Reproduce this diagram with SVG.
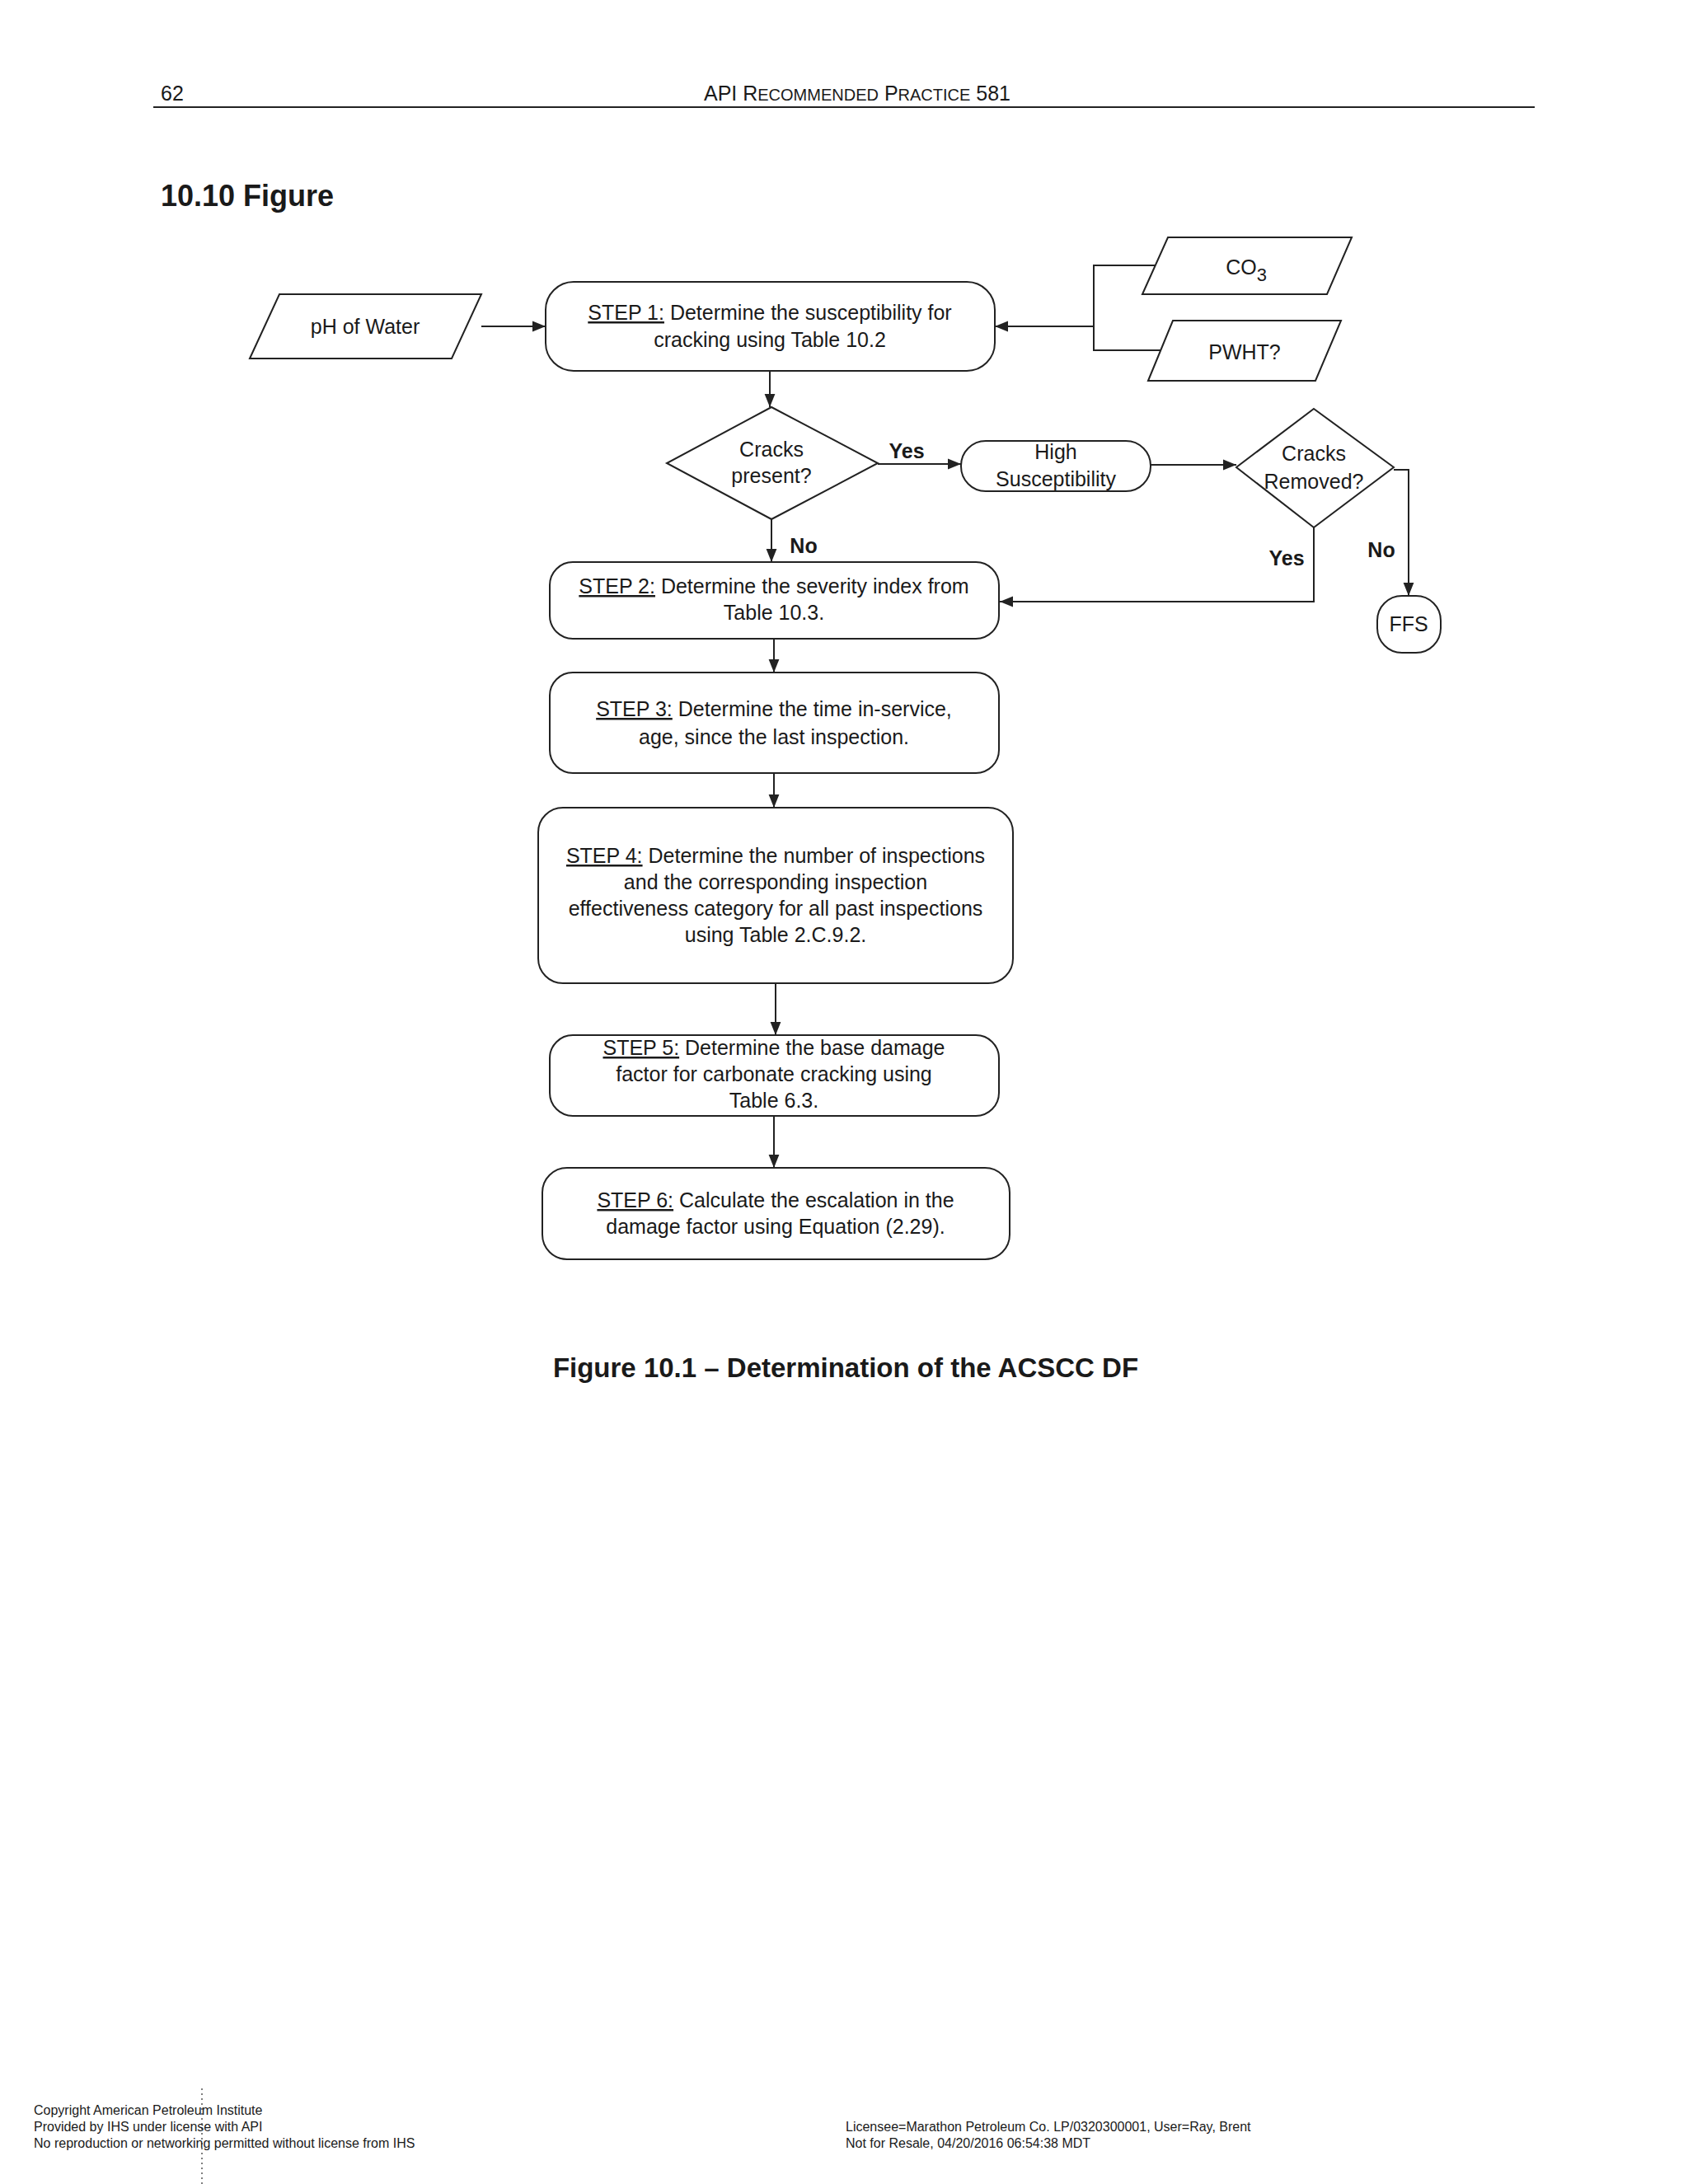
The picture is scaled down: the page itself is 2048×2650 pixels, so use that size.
<svg xmlns="http://www.w3.org/2000/svg" width="2048" height="2650" viewBox="0 0 2048 2650">
<style>
text{font-family:"Liberation Sans",Arial,sans-serif;fill:#1a1a1a}
.t{font-size:25px;text-anchor:middle}
.b{font-weight:bold}
.s{fill:#fff;stroke:#222;stroke-width:2}
.c{fill:none;stroke:#222;stroke-width:2}
.u{text-decoration:underline}
</style>
<defs><marker id="a" viewBox="0 0 10 10" refX="10" refY="5" markerWidth="10" markerHeight="10" markerUnits="userSpaceOnUse" orient="auto"><path d="M0,0L10,5L0,10z" fill="#222"/></marker>
<marker id="A" viewBox="0 0 10 10" refX="10" refY="5" markerWidth="16" markerHeight="16" markerUnits="userSpaceOnUse" orient="auto"><path d="M0,1L10,5L0,9z" fill="#222"/></marker></defs>
<rect width="2048" height="2650" fill="#fff"/>
<text x="195" y="122" font-size="25">62</text>
<text x="1040" y="122" font-size="25" text-anchor="middle">API R<tspan font-size="20">ECOMMENDED</tspan> P<tspan font-size="20">RACTICE</tspan> 581</text>
<line x1="186" y1="130" x2="1862" y2="130" stroke="#222" stroke-width="2"/>
<text x="195" y="250" font-size="36" class="b">10.10    Figure</text>
<g id="connectors">
<path class="c" d="M584,396H662" marker-end="url(#A)"/>
<path class="c" d="M1401,322H1327V425H1408M1327,396H1207" marker-end="url(#A)"/>
<path class="c" d="M934,450V494" marker-end="url(#A)"/>
<path class="c" d="M1065,563H1166" marker-end="url(#A)"/>
<path class="c" d="M1396,564H1500" marker-end="url(#A)"/>
<path class="c" d="M1691,570H1709V723" marker-end="url(#A)"/>
<path class="c" d="M1594,640V730H1213" marker-end="url(#A)"/>
<path class="c" d="M936,630V682" marker-end="url(#A)"/>
<path class="c" d="M939,775V816" marker-end="url(#A)"/>
<path class="c" d="M939,938V980" marker-end="url(#A)"/>
<path class="c" d="M941,1193V1256" marker-end="url(#A)"/>
<path class="c" d="M939,1354V1417" marker-end="url(#A)"/>
<text x="1100" y="556" font-size="25" class="b" text-anchor="middle">Yes</text>
<text x="975" y="671" font-size="25" class="b" text-anchor="middle">No</text>
<text x="1561" y="686" font-size="25" class="b" text-anchor="middle">Yes</text>
<text x="1676" y="676" font-size="25" class="b" text-anchor="middle">No</text>
</g>
<g id="ph"><polygon class="s" points="303,435 339,357 584,357 548,435"/><text class="t" x="443" y="405">pH of Water</text></g>
<g id="co3"><polygon class="s" points="1386,357 1417,288 1640,288 1610,357"/><text class="t" x="1512" y="333" font-size="34">CO<tspan font-size="22" dy="8">3</tspan></text></g>
<g id="pwht"><polygon class="s" points="1393,462 1423,389 1627,389 1596,462"/><text class="t" x="1510" y="436">PWHT?</text></g>
<g id="step1"><rect class="s" x="662" y="342" width="545" height="108" rx="34"/><text class="t" x="934" y="388"><tspan class="u">STEP 1:</tspan> Determine the susceptibility for</text><text class="t" x="934" y="421">cracking using Table 10.2</text></g>
<g id="d1"><polygon class="s" points="936,494 1065,562 936,630 809,562"/><text class="t" x="936" y="554">Cracks</text><text class="t" x="936" y="586">present?</text></g>
<g id="high"><rect class="s" x="1166" y="535" width="230" height="61" rx="30"/><text class="t" x="1281" y="557">High</text><text class="t" x="1281" y="590">Susceptibility</text></g>
<g id="d2"><polygon class="s" points="1594,496 1691,567 1594,640 1500,567"/><text class="t" x="1594" y="559">Cracks</text><text class="t" x="1594" y="593">Removed?</text></g>
<g id="ffs"><rect class="s" x="1671" y="723" width="77" height="69" rx="30"/><text class="t" x="1709" y="766">FFS</text></g>
<g id="step2"><rect class="s" x="667" y="682" width="545" height="93" rx="28"/><text class="t" x="939" y="720"><tspan class="u">STEP 2:</tspan> Determine the severity index from</text><text class="t" x="939" y="752">Table 10.3.</text></g>
<g id="step3"><rect class="s" x="667" y="816" width="545" height="122" rx="28"/><text class="t" x="939" y="869"><tspan class="u">STEP 3:</tspan> Determine the time in-service,</text><text class="t" x="939" y="903">age, since the last inspection.</text></g>
<g id="step4"><rect class="s" x="653" y="980" width="576" height="213" rx="30"/><text class="t" x="941" y="1047"><tspan class="u">STEP 4:</tspan> Determine the number of inspections</text><text class="t" x="941" y="1079">and the corresponding inspection</text><text class="t" x="941" y="1111">effectiveness category for all past inspections</text><text class="t" x="941" y="1143">using Table 2.C.9.2.</text></g>
<g id="step5"><rect class="s" x="667" y="1256" width="545" height="98" rx="28"/><text class="t" x="939" y="1280"><tspan class="u">STEP 5:</tspan> Determine the base damage</text><text class="t" x="939" y="1312">factor for carbonate cracking using</text><text class="t" x="939" y="1344">Table 6.3.</text></g>
<g id="step6"><rect class="s" x="658" y="1417" width="567" height="111" rx="30"/><text class="t" x="941" y="1465"><tspan class="u">STEP 6:</tspan> Calculate the escalation in the</text><text class="t" x="941" y="1497">damage factor using Equation (2.29).</text></g>
<text x="1026" y="1671" font-size="33" class="b" text-anchor="middle">Figure 10.1 – Determination of the ACSCC DF</text>
<line x1="245" y1="2534" x2="245" y2="2650" stroke="#555" stroke-width="1.5" stroke-dasharray="2,4"/>
<g font-size="16"><text x="41" y="2566">Copyright American Petroleum Institute</text><text x="41" y="2586">Provided by IHS under license with API</text><text x="41" y="2606">No reproduction or networking permitted without license from IHS</text>
<text x="1026" y="2586">Licensee=Marathon Petroleum Co. LP/0320300001, User=Ray, Brent</text><text x="1026" y="2606">Not for Resale, 04/20/2016 06:54:38 MDT</text></g>
</svg>
